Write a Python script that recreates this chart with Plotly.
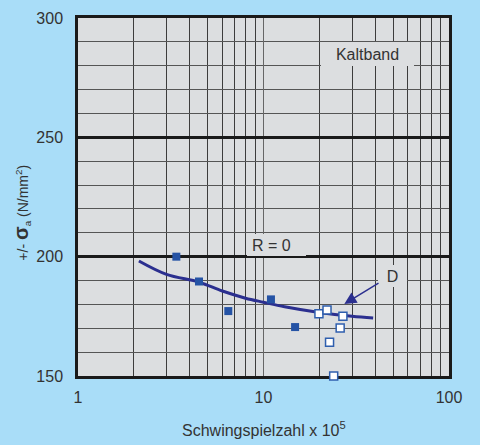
import plotly.graph_objects as go

# ---- data ----
filled_x = [3.39, 4.49, 6.46, 10.97, 14.8]
filled_y = [200.0, 189.6, 177.2, 182.1, 170.5]

open_x = [19.9, 22.0, 26.8, 25.9, 22.7, 23.9]
open_y = [176.1, 177.7, 175.0, 170.1, 164.1, 150.0]

curve_x = [2.13, 3.0, 4.5, 6.0, 8.0, 10.0, 13.0, 20.0, 30.0, 39.0]
curve_y = [198.2, 192.6, 189.3, 185.6, 182.6, 180.9, 179.0, 176.6, 175.0, 174.3]

x_tickvals = [1, 10, 100]
x_ticktext = ["1", "10", "100"]
y_tickvals = [150, 200, 250, 300]

BG = "#a9ddf8"
PLOT_BG = "#dcdee0"
TXT = "#333333"
FONT = "Liberation Sans"

fig = go.Figure()

fig.add_trace(go.Scatter(
    x=curve_x, y=curve_y, mode="lines",
    line=dict(color="#2b2f8f", width=3, shape="spline"),
    hoverinfo="skip", showlegend=False))

fig.add_trace(go.Scatter(
    x=filled_x, y=filled_y, mode="markers",
    marker=dict(symbol="square", size=8, color="#2553a5", line=dict(width=0)),
    showlegend=False, cliponaxis=False))

fig.add_trace(go.Scatter(
    x=open_x, y=open_y, mode="markers",
    marker=dict(symbol="square", size=8, color="white",
                line=dict(color="#2f5fae", width=1.5)),
    showlegend=False, cliponaxis=False))

fig.update_layout(
    width=480, height=445,
    margin=dict(l=78, r=31, t=10, b=69),
    paper_bgcolor=BG, plot_bgcolor=PLOT_BG,
    font=dict(family=FONT, size=16, color=TXT),
    xaxis=dict(
        type="log", range=[0, 2],
        tickvals=x_tickvals, ticktext=x_ticktext,
        ticks="", ticklabelstandoff=5,
        showgrid=True, gridcolor="#666666", gridwidth=1,
        minor=dict(dtick="D1", showgrid=True, gridcolor="#3c3c3c", gridwidth=1),
        showline=True, linecolor="#1a1a1a", linewidth=2.5, mirror=True,
        layer="below traces", zeroline=False,
    ),
    yaxis=dict(
        range=[150, 300], tickvals=y_tickvals,
        ticks="", ticklabelstandoff=9,
        showgrid=True, gridcolor="#1a1a1a", gridwidth=2.5,
        minor=dict(dtick=10, tick0=150, showgrid=True, gridcolor="#555555", gridwidth=1.2),
        showline=True, linecolor="#1a1a1a", linewidth=2.5, mirror=True,
        layer="below traces", zeroline=False,
    ),
    annotations=[
        dict(x=1.5596, y=284.8, xref="x", yref="y", text="Kaltband",
             showarrow=False, bgcolor=PLOT_BG, width=93, height=24,
             borderpad=0, borderwidth=0, align="center",
             font=dict(size=16, color=TXT)),
        dict(x=1.0712, y=204.96, xref="x", yref="y", text="R = 0",
             showarrow=False, bgcolor=PLOT_BG, width=49, height=12,
             borderpad=5, borderwidth=0, align="left",
             font=dict(size=16, color=TXT)),
        dict(x=1.6954, y=191.8, xref="x", yref="y", text="D",
             showarrow=False, bgcolor=PLOT_BG, width=29, height=22,
             borderpad=0, borderwidth=0, align="center",
             font=dict(size=16, color=TXT)),
        dict(x=1.4356, y=180.2, xref="x", yref="y", ax=1.628, ay=189.3,
             axref="x", ayref="y", text="", showarrow=True,
             arrowhead=2, arrowsize=1.6, arrowwidth=1.5, arrowcolor="#2b2f8f",
             standoff=0, startstandoff=0),
        dict(x=(263.5 - 78) / 371, y=(376 - 430) / 366, xref="paper", yref="paper",
             xanchor="center", yanchor="middle", showarrow=False,
             text="Schwingspielzahl x 10<sup>5</sup>",
             font=dict(size=16, color=TXT)),
        dict(x=(22 - 78) / 371, y=(376 - 209) / 366, xref="paper", yref="paper",
             xanchor="center", yanchor="middle", showarrow=False, textangle=-90,
             text="+/- <span style='font-size:20px'><b>σ</b></span><sub>a</sub> (N/mm<sup>2</sup>)",
             font=dict(size=14, color=TXT)),
    ],
)

fig.write_html("out.html")
